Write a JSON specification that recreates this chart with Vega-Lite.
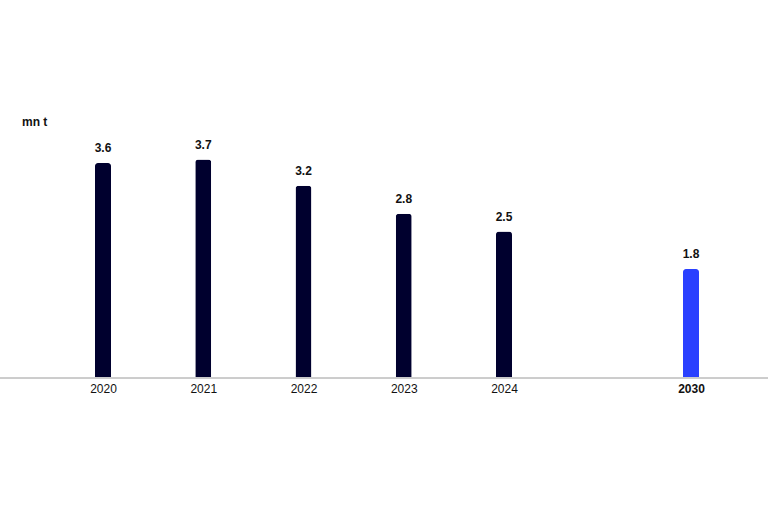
{
  "$schema": "https://vega.github.io/schema/vega-lite/v6.json",
  "width": 768,
  "height": 250,
  "autosize": {"type": "none"},
  "padding": {"left": 0, "top": 128, "right": 0, "bottom": 134},
  "background": "white",
  "config": {"view": {"stroke": null}, "font": "Liberation Sans"},
  "title": {"text": "mn t", "anchor": "start", "frame": "group", "fontSize": 12, "fontWeight": "bold", "color": "#111111", "dx": 22, "dy": 12, "offset": 2, "baseline": "alphabetic"},
  "data": {"values": [
    {"year": 2020, "value": 3.61, "type": "actual"},
    {"year": 2021, "value": 3.67, "type": "actual"},
    {"year": 2022, "value": 3.23, "type": "actual"},
    {"year": 2023, "value": 2.76, "type": "actual"},
    {"year": 2024, "value": 2.46, "type": "actual"},
    {"year": 2030, "value": 1.83, "type": "target"}
  ]},
  "encoding": {
    "x": {"field": "year", "type": "quantitative",
      "scale": {"domain": [2020, 2024, 2030], "range": [103, 504, 691], "padding": 0, "nice": false, "zero": false},
      "axis": {"values": [2020, 2021, 2022, 2023, 2024, 2030], "format": "d", "title": null, "grid": false, "ticks": false, "domain": false,
        "labelFontSize": 12, "labelColor": "#111111", "labelPadding": 5, "labelFlush": false,
        "labelFontWeight": {"condition": {"test": "datum.value == 2030", "value": "bold"}, "value": "normal"}}},
    "y": {"field": "value", "type": "quantitative", "scale": {"domain": [0, 4.2], "nice": false}, "axis": null}
  },
  "layer": [
    {"mark": {"type": "bar", "width": 16, "cornerRadiusTopLeft": 3, "cornerRadiusTopRight": 3},
     "encoding": {"color": {"field": "type", "type": "nominal", "scale": {"domain": ["actual", "target"], "range": ["#00002e", "#2a40ff"]}, "legend": null}}},
    {"mark": {"type": "text", "baseline": "bottom", "dy": -8, "fontSize": 12, "fontWeight": "bold", "color": "#111111"},
     "encoding": {"text": {"field": "value", "type": "quantitative", "format": ".1f"}}},
    {"mark": {"type": "rule", "color": "#cccccc", "strokeWidth": 1},
     "encoding": {"x": null, "y": {"datum": 0}}}
  ]
}
